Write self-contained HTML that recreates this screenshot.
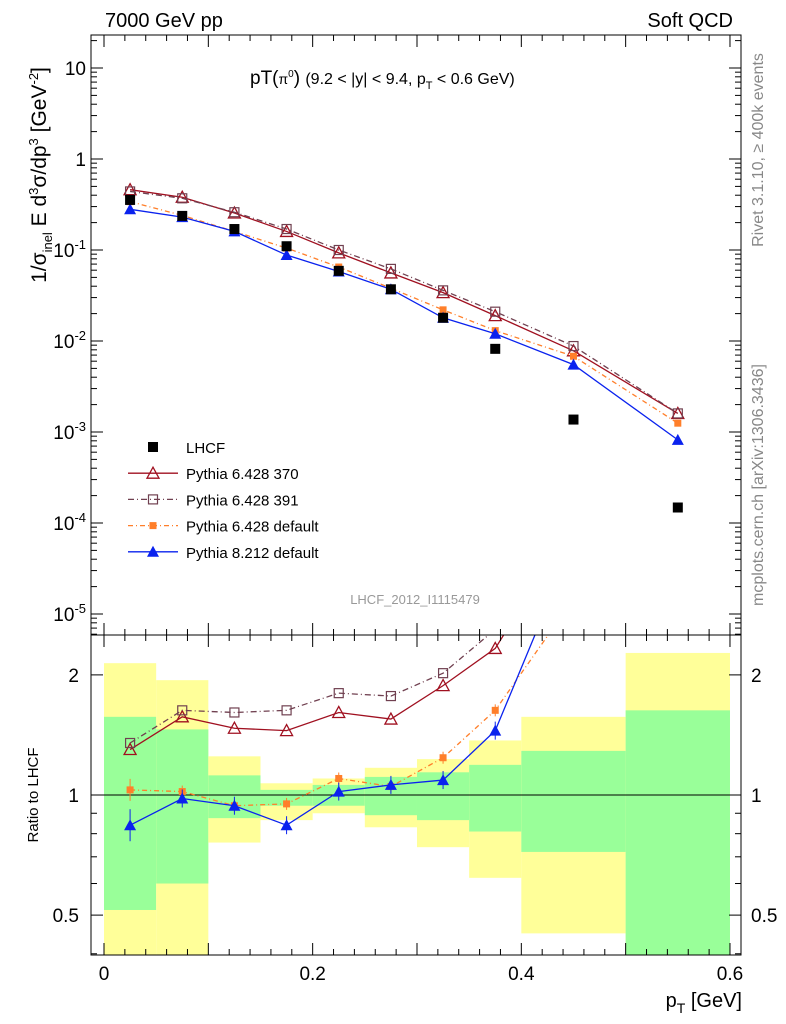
<!DOCTYPE html>
<html><head><meta charset="utf-8"><style>
body{margin:0;background:#fff}
svg{display:block;font-family:"Liberation Sans",sans-serif}
</style></head><body>
<svg id="c" width="786" height="1024"></svg>
<script>
const binCenters=[0.025,0.075,0.125,0.175,0.225,0.275,0.325,0.375,0.45,0.55];
const binEdges=[0,0.05,0.1,0.15,0.2,0.25,0.3,0.35,0.4,0.5,0.6];
const lhcf=[0.355,0.237,0.17,0.11,0.059,0.037,0.018,0.0082,0.00137,0.000148];
const p370=[0.46,0.38,0.255,0.16,0.093,0.056,0.034,0.019,0.0078,0.0016];
const p391=[0.44,0.37,0.26,0.17,0.10,0.062,0.036,0.021,0.0088,0.0016];
const pdef=[0.34,0.24,0.16,0.105,0.065,0.038,0.022,0.013,0.0068,0.00125];
const p8=[0.28,0.23,0.16,0.088,0.058,0.037,0.018,0.012,0.0055,0.00082];
const r370=[1.30,1.57,1.47,1.45,1.61,1.55,1.88,2.33,4.8,10];
const r391=[1.35,1.63,1.61,1.63,1.80,1.77,2.02,2.6,6,10];
const rdef=[1.03,1.02,0.94,0.95,1.10,1.05,1.24,1.63,3.1,8];
const r8=[0.84,0.98,0.94,0.84,1.02,1.06,1.09,1.45,4.3,5.5];
const yelHi=[2.14,1.94,1.25,1.07,1.10,1.17,1.23,1.37,1.57,2.27];
const yelLo=[0.35,0.35,0.76,0.865,0.90,0.83,0.74,0.62,0.45,0.35];
const grnHi=[1.57,1.46,1.12,1.03,1.06,1.11,1.14,1.19,1.29,1.63];
const grnLo=[0.515,0.60,0.875,0.94,0.94,0.89,0.865,0.81,0.72,0.35];
const topTicks=[1,0,-1,-2,-3,-4,-5];
const xTicks=[0,0.2,0.4,0.6];
const ratioTicks=[2,1,0.5];

const L=91,R=741,T=35,M=635,B=955;
const X=v=>104+v*1043.3;
const Y=v=>159-Math.log10(v)*91;
const RY=v=>795-Math.log10(v)*399;
const svg=document.getElementById('c');
const NS='http://www.w3.org/2000/svg';
function mk(tag,at,parent){const e=document.createElementNS(NS,tag);for(const k in at)e.setAttribute(k,at[k]);(parent||svg).appendChild(e);return e;}
function txt(s,x,y,sz,anchor,fill,name){const t=mk('text',{x:x,y:y,'font-size':sz,'text-anchor':anchor||'start',fill:fill||'#000'});t.innerHTML=s;return t;}
const defs=mk('defs',{});
const cp1=mk('clipPath',{id:'ct'},defs);mk('rect',{x:L,y:T,width:R-L,height:M-T},cp1);
const cp2=mk('clipPath',{id:'cr'},defs);mk('rect',{x:L,y:M,width:R-L,height:B-M},cp2);
const gr=mk('g',{'clip-path':'url(#cr)'});


for(let i=0;i<binCenters.length;i++){
 const x0=X(binEdges[i]),x1=X(binEdges[i+1]);
 const y=mk('rect',{x:x0,y:RY(yelHi[i]),width:x1-x0,height:RY(yelLo[i])-RY(yelHi[i]),fill:'#ffff99'},gr);
 
 
 const g=mk('rect',{x:x0,y:RY(grnHi[i]),width:x1-x0,height:RY(grnLo[i])-RY(grnHi[i]),fill:'#99ff99'},gr);
 
 
}
mk('line',{x1:L,x2:R,y1:RY(1),y2:RY(1),stroke:'#000','stroke-width':1},gr);
const gt=mk('g',{'clip-path':'url(#ct)'});
const series=[
 {name:'pythia-6428-370',top:p370,rat:r370,col:'#a01020',dash:'',mark:'tri-open'},
 {name:'pythia-6428-391',top:p391,rat:r391,col:'#704050',dash:'6,3,1,3',mark:'sq-open'},
 {name:'pythia-6428-default',top:pdef,rat:rdef,col:'#ff7f2a',dash:'5,3,1,3',mark:'sq-fill'},
 {name:'pythia-8212-default',top:p8,rat:r8,col:'#0a22ee',dash:'',mark:'tri-fill'}];
function marker(g,m,x,y,col,name){
 let e;
 if(m=='tri-open')e=mk('path',{d:`M${x},${y-6}L${x+6},${y+5}L${x-6},${y+5}Z`,fill:'none',stroke:col,'stroke-width':1.3},g);
 else if(m=='tri-fill')e=mk('path',{d:`M${x},${y-6}L${x+6},${y+5}L${x-6},${y+5}Z`,fill:col},g);
 else if(m=='sq-open')e=mk('rect',{x:x-4.5,y:y-4.5,width:9,height:9,fill:'none',stroke:col,'stroke-width':1.2},g);
 else if(m=='sq-fill')e=mk('rect',{x:x-3.5,y:y-3.5,width:7,height:7,fill:col},g);
 else e=mk('rect',{x:x-5,y:y-5,width:10,height:10,fill:col},g);
 
 
}
series.forEach(s=>{
 const p1=mk('polyline',{points:binCenters.map((c,i)=>X(c)+','+Y(s.top[i])).join(' '),fill:'none',stroke:s.col,'stroke-width':1.3,'stroke-dasharray':s.dash},gt);
 
 
 binCenters.forEach((c,i)=>marker(gt,s.mark,X(c),Y(s.top[i]),s.col,s.name+'-point'));
 const p2=mk('polyline',{points:binCenters.map((c,i)=>X(c)+','+RY(s.rat[i])).join(' '),fill:'none',stroke:s.col,'stroke-width':1.3,'stroke-dasharray':s.dash},gr);
 
 
 binCenters.forEach((c,i)=>{
  if(s.mark=='tri-fill'||s.mark=='sq-fill'){const ey=RY(s.rat[i]);const h=s.mark=='tri-fill'?(i==0?16:9):(i==0?11:6);mk('line',{x1:X(c),x2:X(c),y1:ey-h,y2:ey+h,stroke:s.col},gr);}
  marker(gr,s.mark,X(c),RY(s.rat[i]),s.col,s.name+'-ratio-point');});
});
binCenters.forEach((c,i)=>marker(gt,'lhcf',X(c),Y(lhcf[i]),'#000','lhcf-point'));
// frames
mk('rect',{x:L,y:T,width:R-L,height:B-T,fill:'none',stroke:'#000','stroke-width':1});
mk('line',{x1:L,x2:R,y1:M,y2:M,stroke:'#000'});
for(let d=-6;d<=1;d++){for(let k=1;k<10;k++){const v=k*Math.pow(10,d);const y=Y(v);if(y<T||y>M)continue;const len=k==1?12:6;
 mk('line',{x1:L,x2:L+len,y1:y,y2:y,stroke:'#000'});mk('line',{x1:R,x2:R-len,y1:y,y2:y,stroke:'#000'});}}
topTicks.forEach(e=>{const y=Y(Math.pow(10,e))+7;const s=e==1?'10':e==0?'1':`10<tspan font-size="13" dy="-8">${e}</tspan>`;txt(s,86,y,19,'end','#000','y-tick-label');});
[0.4,0.5,0.6,0.7,0.8,0.9,1,2].forEach(v=>{const y=RY(v);const len=(v==1||v==2||v==0.5)?12:6;mk('line',{x1:L,x2:L+len,y1:y,y2:y,stroke:'#000'});mk('line',{x1:R,x2:R-len,y1:y,y2:y,stroke:'#000'});});
ratioTicks.forEach(v=>{txt(String(v),79,RY(v)+7,19,'end','#000','ratio-tick-label');txt(String(v),751,RY(v)+7,19,'start','#000','ratio-tick-label-right');});
for(let i=0;i<=30;i++){const v=i*0.02;const x=X(v);const len=i%5==0?12:6;
 [[T,1],[M,1],[M,-1],[B,-1]].forEach(([y0,dir])=>mk('line',{x1:x,x2:x,y1:y0,y2:y0+dir*len,stroke:'#000'}));}
xTicks.forEach(v=>txt(String(v),X(v),980,19,'middle','#000','x-tick-label'));
txt('7000 GeV pp',105,27,20,'start','#000','energy-label');
txt('Soft QCD',733,27,20,'end','#000','process-label');
txt('pT(<tspan font-size="14">π</tspan><tspan font-size="10" dy="-7">0</tspan><tspan dy="7">) </tspan><tspan font-size="16">(9.2 &lt; |y| &lt; 9.4, p</tspan><tspan font-size="11" dy="5">T</tspan><tspan font-size="16" dy="-5"> &lt; 0.6 GeV)</tspan>',250,84,19,'start','#000','plot-title');
txt('LHCF_2012_I1115479',415,604,13,'middle','#999','analysis-id');
let t=txt('Rivet 3.1.10, ≥ 400k events',0,0,16,'middle','#888','rivet-version');t.setAttribute('transform','translate(763,150) rotate(-90)');
t=txt('mcplots.cern.ch [arXiv:1306.3436]',0,0,16,'middle','#888','source-label');t.setAttribute('transform','translate(763,485) rotate(-90)');
t=txt('1/σ<tspan font-size="13" dy="6">inel</tspan><tspan dy="-6"> E d</tspan><tspan font-size="13" dy="-8">3</tspan><tspan dy="8">σ/dp</tspan><tspan font-size="13" dy="-8">3</tspan><tspan dy="8"> [GeV</tspan><tspan font-size="13" dy="-8">-2</tspan><tspan dy="8">]</tspan>',0,0,21,'middle','#000','y-axis-title');t.setAttribute('transform','translate(46,175) rotate(-90)');
t=txt('Ratio to LHCF',0,0,15,'middle','#000','ratio-axis-title');t.setAttribute('transform','translate(38,795) rotate(-90)');
txt('p<tspan font-size="14" dy="6">T</tspan><tspan dy="-6"> [GeV]</tspan>',742,1007,20,'end','#000','x-axis-title');
const leg=[['LHCF','lhcf','#000',''],['Pythia 6.428 370','tri-open','#a01020',''],['Pythia 6.428 391','sq-open','#704050','6,3,1,3'],['Pythia 6.428 default','sq-fill','#ff7f2a','5,3,1,3'],['Pythia 8.212 default','tri-fill','#0a22ee','']];
leg.forEach((l,i)=>{const y=447+i*26.2;
 if(i>0)mk('line',{x1:128,x2:178,y1:y,y2:y,stroke:l[2],'stroke-width':1.3,'stroke-dasharray':l[3]});
 marker(svg,l[1],153,y,l[2],'legend-marker');
 txt(l[0],186,y+6,15,'start','#000','legend-entry');});
</script></body></html>
